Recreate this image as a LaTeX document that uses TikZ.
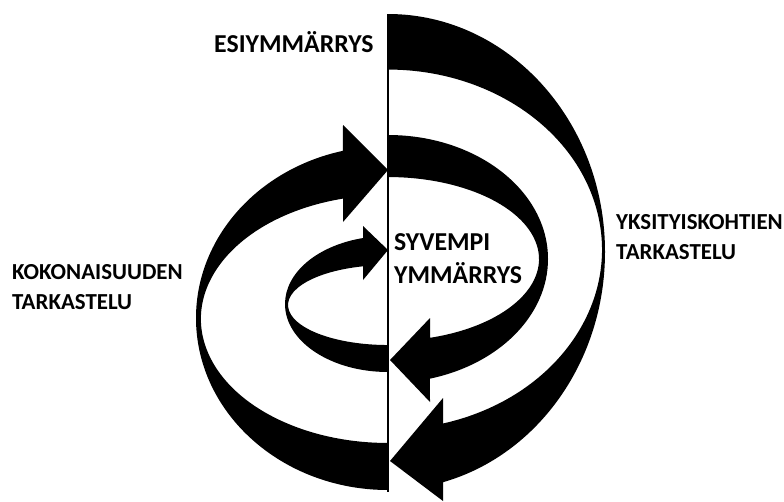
\documentclass[tikz,border=0pt]{standalone}
\usepackage{fontspec}
\setmainfont{Carlito}
\usepackage{tikz}
\definecolor{ink}{RGB}{0,0,0}

\begin{document}
\begin{tikzpicture}[x=1pt, y=-1pt,
    band/.style={fill=ink, draw=none},
    lbl/.style={font=\bfseries\fontsize{25.8}{33}\selectfont, align=left, inner sep=0pt, anchor=base west},
    sidelbl/.style={lbl, font=\bfseries\fontsize{22.9}{30}\selectfont}]
  \useasboundingbox (0,0) rectangle (784,501);
  \coordinate (top) at (388,14);
  \coordinate (bot) at (388,492);
  % outer right turn
  \fill[band] (top) arc[start angle=-90, end angle=75.3, x radius=217, y radius=238]
    -- (443,501) -- (390,461) -- (443,398) -- (443,423.5)
    arc[start angle=75.1, end angle=-90, x radius=214, y radius=180] -- cycle;
  % outer left turn
  \fill[band] (388,490) arc[start angle=90, end angle=256.4, x radius=192, y radius=172]
    -- (343,125) -- (388,170) -- (343,222) -- (343,198.6)
    arc[start angle=256.1, end angle=90, x radius=187, y radius=124] -- cycle;
  % inner right turn
  \fill[band] (388,135) arc[start angle=-90, end angle=74.8, x radius=160, y radius=124]
    -- (430,402) -- (390,360) -- (430,318) -- (430,337.8)
    arc[start angle=73.85, end angle=-90, x radius=151, y radius=82] -- cycle;
  % inner left turn
  \fill[band] (388,372) arc[start angle=90, end angle=256, x radius=103, y radius=68]
    -- (363,226) -- (388,250) -- (363,280) -- (363,266.3)
    arc[start angle=255.5, end angle=90, x radius=100, y radius=40] -- cycle;
  \draw[ink, line width=1.8pt] (top) -- (bot);
  % labels (base = last line)
  \node[lbl] (esi) at (214,52) {ESIYMMÄRRYS};
  \node[lbl] (syv) at (394,283) {SYVEMPI\\YMMÄRRYS};
  \node[sidelbl] (yks) at (616,259) {YKSITYISKOHTIEN\\TARKASTELU};
  \node[sidelbl] (kok) at (12,309) {KOKONAISUUDEN\\TARKASTELU};
\end{tikzpicture}
\end{document}
